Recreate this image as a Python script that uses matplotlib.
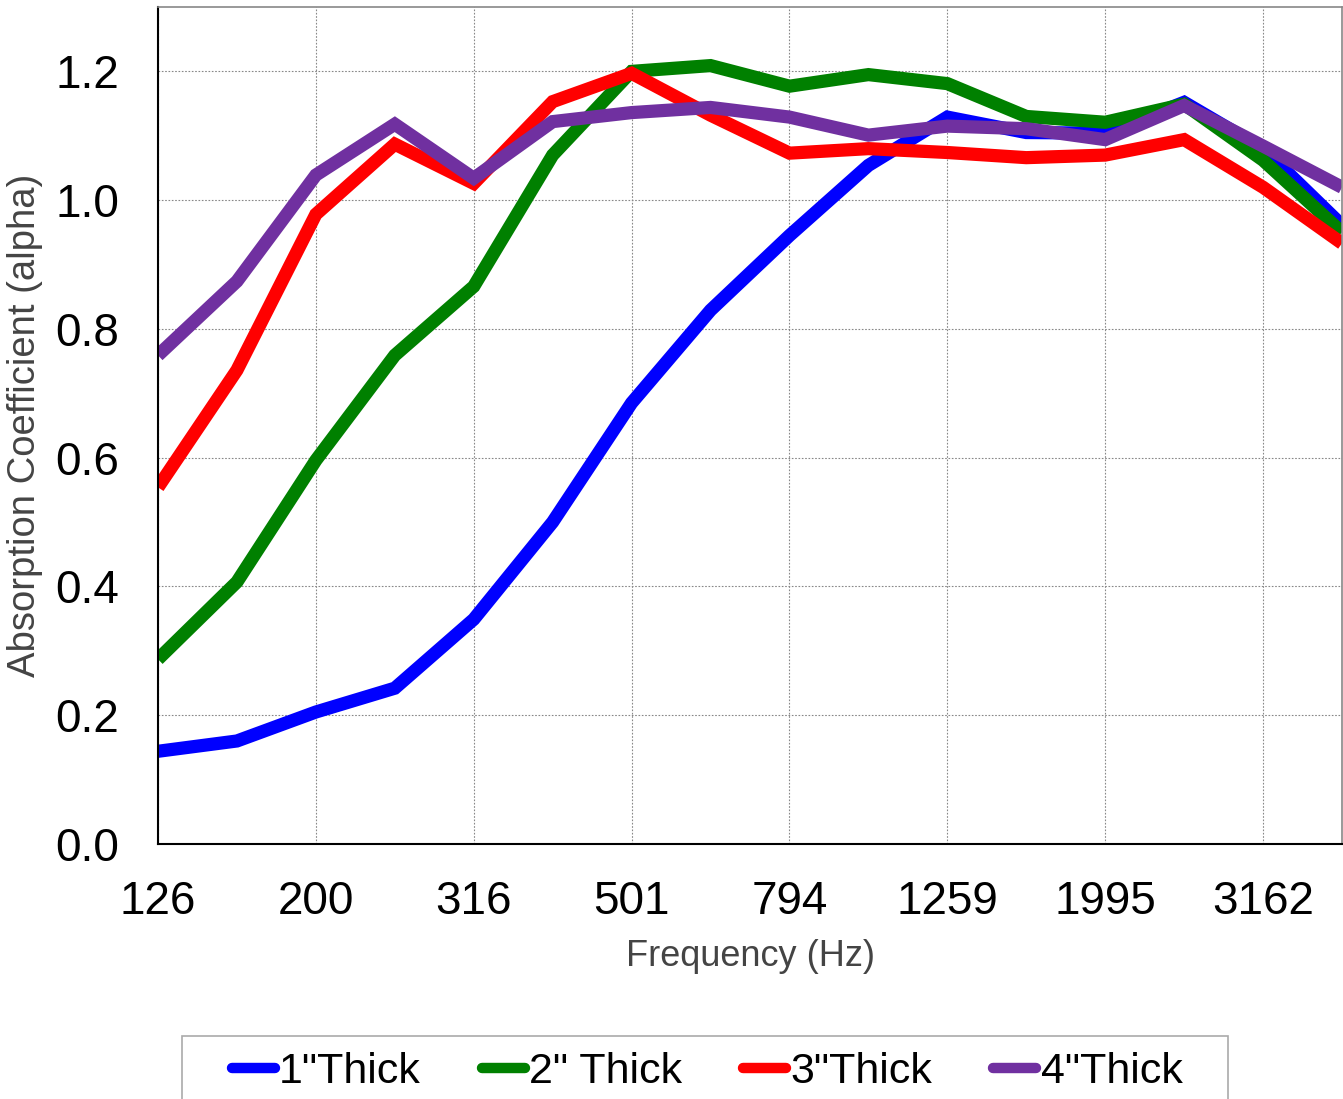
import matplotlib
matplotlib.use("Agg")
import matplotlib.pyplot as plt
from matplotlib.patches import Rectangle

plt.rcParams['font.family'] = ['Liberation Sans', 'DejaVu Sans']

freqs = ["126", "158", "200", "251", "316", "398", "501", "631", "794", "1000",
         "1259", "1585", "1995", "2512", "3162", "3981"]
thick1 = [0.144, 0.160, 0.205, 0.242, 0.349, 0.500, 0.685, 0.829, 0.945, 1.054,
          1.129, 1.105, 1.104, 1.152, 1.080, 0.961]
thick2 = [0.287, 0.407, 0.596, 0.759, 0.866, 1.070, 1.200, 1.209, 1.177, 1.195,
          1.181, 1.130, 1.121, 1.149, 1.062, 0.950]
thick3 = [0.554, 0.736, 0.978, 1.087, 1.026, 1.153, 1.197, 1.132, 1.073, 1.080,
          1.074, 1.066, 1.070, 1.094, 1.020, 0.933]
thick4 = [0.759, 0.874, 1.039, 1.118, 1.034, 1.122, 1.136, 1.144, 1.129, 1.101,
          1.115, 1.111, 1.094, 1.147, 1.084, 1.020]
labels = ['1"Thick', '2" Thick', '3"Thick', '4"Thick']
colors = ['#0000ff', '#008000', '#ff0000', '#7030a0']

W, H = 1343, 1099
fig = plt.figure(figsize=(W/100, H/100), dpi=100)
ax = fig.add_axes([158/W, 1 - 844/H, (1342-158)/W, (844-7)/H])

x = list(range(len(freqs)))
for vals, lab, c in zip([thick1, thick2, thick3, thick4], labels, colors):
    ax.plot(x, vals, color=c, lw=9.5, label=lab, solid_joinstyle='miter',
            solid_capstyle='butt')

ax.set_xlim(0, len(freqs) - 1)
ax.set_ylim(0, 1.3)
ax.set_xticks(x[::2])
ax.set_xticklabels(freqs[::2])
ax.set_yticks([0.0, 0.2, 0.4, 0.6, 0.8, 1.0, 1.2])
ax.set_yticklabels(["0.0", "0.2", "0.4", "0.6", "0.8", "1.0", "1.2"])
ax.tick_params(axis='both', length=0, labelsize=33)
ax.tick_params(axis='y', pad=28)
ax.tick_params(axis='x', pad=26)
ax.grid(True, color='#888888', linestyle=(0, (1.5, 1.5)), linewidth=0.8)
ax.set_axisbelow(True)

for s in ['top', 'right']:
    ax.spines[s].set_color('#888888')
    ax.spines[s].set_linewidth(1.2)
for s in ['left', 'bottom']:
    ax.spines[s].set_color('black')
    ax.spines[s].set_linewidth(1.5)

ax.set_xlabel("Frequency (Hz)", fontsize=26, color='#444444', labelpad=11)
ax.set_ylabel("Absorption Coefficient (alpha)", fontsize=27.5, color='#444444', labelpad=9)

# legend frame
frame = Rectangle((182/W, -0.02), (1228-182)/W, (H-1036)/H + 0.02,
                  transform=fig.transFigure, facecolor='white',
                  edgecolor='#aaaaaa', linewidth=1.2, clip_on=False, zorder=0)
fig.patches.append(frame)

leg = fig.legend(loc='lower left', bbox_to_anchor=(210/W, -0.0135, (1204-210)/W, 0.0),
                 ncol=4, mode='expand', frameon=False,
                 prop={'size': 31}, handlelength=1.0, borderaxespad=0,
                 handletextpad=0.1, columnspacing=1.0, borderpad=0.5)
for h in leg.get_lines():
    h.set_solid_capstyle('round')
    h.set_linewidth(7.5)

fig.savefig("out.png", dpi=100)
